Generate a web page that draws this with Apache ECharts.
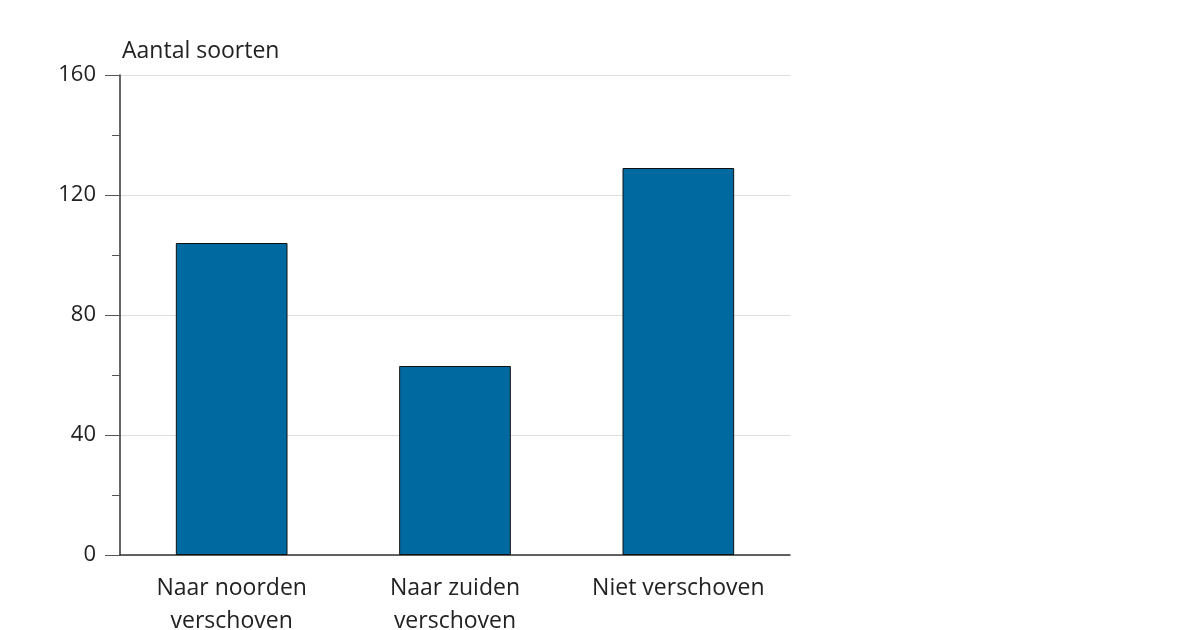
<!DOCTYPE html>
<html>
<head>
<meta charset="utf-8">
<script src="https://cdn.jsdelivr.net/npm/echarts@6/dist/echarts.min.js"></script>
<style>
  html, body { margin: 0; padding: 0; background: #fff; }
  #main { width: 1200px; height: 630px; }
</style>
</head>
<body>
<div id="main"></div>
<script>
// gegevens
var categories = ['Naar noorden\nverschoven', 'Naar zuiden\nverschoven', 'Niet verschoven'];
var soorten = [104, 63, 129];
var yTicks = [0, 40, 80, 120, 160];

var myChart = echarts.init(document.getElementById('main'));
var font = '"Open Sans", sans-serif';

var option = {
    backgroundColor: '#fff',
    animation: false,
    title: {
        text: 'Aantal soorten',
        left: 117,
        top: 35,
        textStyle: { fontFamily: font, fontSize: 23, fontWeight: 'normal', color: '#222' }
    },
    grid: { left: 120, right: 410, top: 75, bottom: 75, outerBoundsMode: 'none', containLabel: false },
    xAxis: {
        type: 'category',
        data: categories,
        axisLine: { lineStyle: { color: '#333', width: 1.5 } },
        axisTick: { show: false },
        axisLabel: {
            fontFamily: font, fontSize: 23, color: '#222',
            margin: 17, lineHeight: 33, interval: 0
        }
    },
    yAxis: {
        type: 'value',
        min: yTicks[0],
        max: yTicks[yTicks.length - 1],
        interval: 40,
        axisLine: { show: true, lineStyle: { color: '#333', width: 1.5 } },
        axisTick: { show: true, length: 15, lineStyle: { color: '#555' } },
        minorTick: { show: true, splitNumber: 2, length: 8, lineStyle: { color: '#555' } },
        splitLine: { show: true, lineStyle: { color: '#dddddd', width: 1 } },
        axisLabel: { fontFamily: font, fontSize: 22, color: '#222', margin: 24 }
    },
    series: [{
        type: 'bar',
        data: soorten,
        barWidth: '50%',
        itemStyle: {
            color: '#0069A0',
            borderColor: '#111',
            borderWidth: 1
        }
    }]
};

myChart.setOption(option);
</script>
</body>
</html>
